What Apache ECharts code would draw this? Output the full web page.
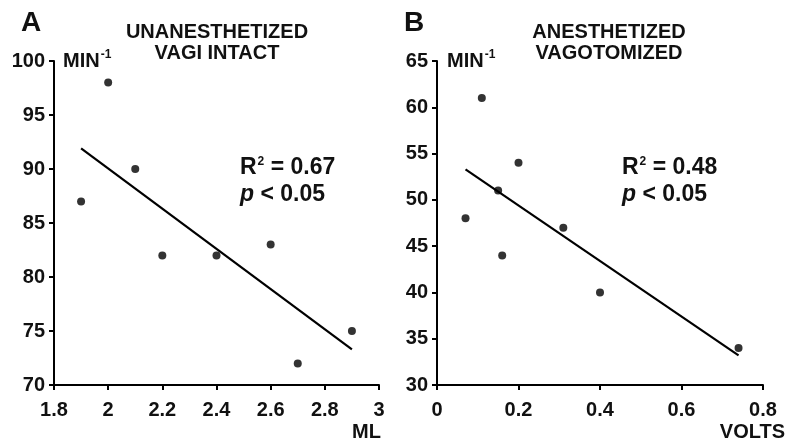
<!DOCTYPE html>
<html>
<head>
<meta charset="utf-8">
<script src="https://cdn.jsdelivr.net/npm/echarts@6/dist/echarts.min.js"></script>
<style>
  html, body { margin: 0; padding: 0; background: #fff; }
  #chart { width: 788px; height: 445px; }
</style>
</head>
<body>
<div id="chart"></div>
<script>
// Panel A: unanesthetized, vagi intact (x = ML, y = MIN^-1)
var pointsA = [[1.9, 87], [2.0, 98], [2.1, 90], [2.2, 82], [2.4, 82], [2.6, 83], [2.7, 72], [2.9, 75]];
var fitA = [[1.9, 91.9], [2.9, 73.3]];
// Panel B: anesthetized, vagotomized (x = VOLTS, y = MIN^-1)
var pointsB = [[0.07, 48], [0.11, 61], [0.15, 51], [0.16, 44], [0.2, 54], [0.31, 47], [0.4, 40], [0.74, 34]];
var fitB = [[0.07, 53.3], [0.74, 33.2]];

var FONT = 'Liberation Sans, Arial, Helvetica, sans-serif';

function axisStyle() {
  return {
    axisLine: { show: true, lineStyle: { color: '#000', width: 2 } },
    axisTick: { show: true, inside: false, length: 5, lineStyle: { color: '#000', width: 2 } },
    splitLine: { show: false },
    axisLabel: { color: '#111', fontFamily: FONT, fontWeight: 'bold', fontSize: 20 }
  };
}

function xAxis(idx, min, max, interval) {
  var a = axisStyle();
  a.type = 'value';
  a.gridIndex = idx;
  a.min = min; a.max = max; a.interval = interval;
  a.axisLabel.margin = 15;
  a.axisLabel.formatter = function (v) { return +v.toFixed(1) + ''; };
  return a;
}

function yAxis(idx, min, max, interval) {
  var a = axisStyle();
  a.type = 'value';
  a.gridIndex = idx;
  a.min = min; a.max = max; a.interval = interval;
  a.axisLabel.margin = 9;
  return a;
}

function txt(x, y, text, size, align, extra) {
  var style = {
    x: x, y: y, text: text, fill: '#111',
    font: 'bold ' + size + 'px ' + FONT,
    textAlign: align || 'left', textVerticalAlign: 'middle'
  };
  if (extra) for (var k in extra) style[k] = extra[k];
  return { type: 'text', style: style, z: 10 };
}

var sup = { sup: { fontSize: 12, fontWeight: 'bold', fontFamily: FONT, verticalAlign: 'top', padding: [0, 0, 12, 1] } };
var ital = { i: { fontStyle: 'italic', fontWeight: 'bold', fontSize: 23, fontFamily: FONT } };

var chart = echarts.init(document.getElementById('chart'));
chart.setOption({
  animation: false,
  backgroundColor: '#fff',
  grid: [
    { left: 54, right: 409, top: 61, bottom: 60 },
    { left: 437, right: 25, top: 61, bottom: 60 }
  ],
  xAxis: [
    xAxis(0, 1.8, 3, 0.2),
    xAxis(1, 0, 0.8, 0.2)
  ],
  yAxis: [
    yAxis(0, 70, 100, 5),
    yAxis(1, 30, 65, 5)
  ],
  series: [
    { type: 'scatter', xAxisIndex: 0, yAxisIndex: 0, data: pointsA, symbolSize: 8, itemStyle: { color: '#000' } },
    { type: 'line', xAxisIndex: 0, yAxisIndex: 0, data: fitA, symbol: 'none', lineStyle: { color: '#000', width: 2.2 } },
    { type: 'scatter', xAxisIndex: 1, yAxisIndex: 1, data: pointsB, symbolSize: 8, itemStyle: { color: '#000' } },
    { type: 'line', xAxisIndex: 1, yAxisIndex: 1, data: fitB, symbol: 'none', lineStyle: { color: '#000', width: 2.2 } }
  ],
  graphic: [
    txt(21, 23, 'A', 28),
    txt(217, 32, 'UNANESTHETIZED', 20, 'center'),
    txt(217, 53, 'VAGI INTACT', 20, 'center'),
    txt(63, 61, 'MIN{sup|-1}', 20, 'left', { rich: sup }),
    txt(240, 168, 'R{sup|2} = 0.67', 23, 'left', { rich: sup }),
    txt(240, 195, '{i|p} < 0.05', 23, 'left', { rich: ital }),
    txt(381, 432, 'ML', 20, 'right'),

    txt(404, 23, 'B', 28),
    txt(609, 32, 'ANESTHETIZED', 20, 'center'),
    txt(609, 53, 'VAGOTOMIZED', 20, 'center'),
    txt(447, 61, 'MIN{sup|-1}', 20, 'left', { rich: sup }),
    txt(622, 168, 'R{sup|2} = 0.48', 23, 'left', { rich: sup }),
    txt(622, 195, '{i|p} < 0.05', 23, 'left', { rich: ital }),
    txt(785, 432, 'VOLTS', 20, 'right')
  ]
});
</script>
</body>
</html>
